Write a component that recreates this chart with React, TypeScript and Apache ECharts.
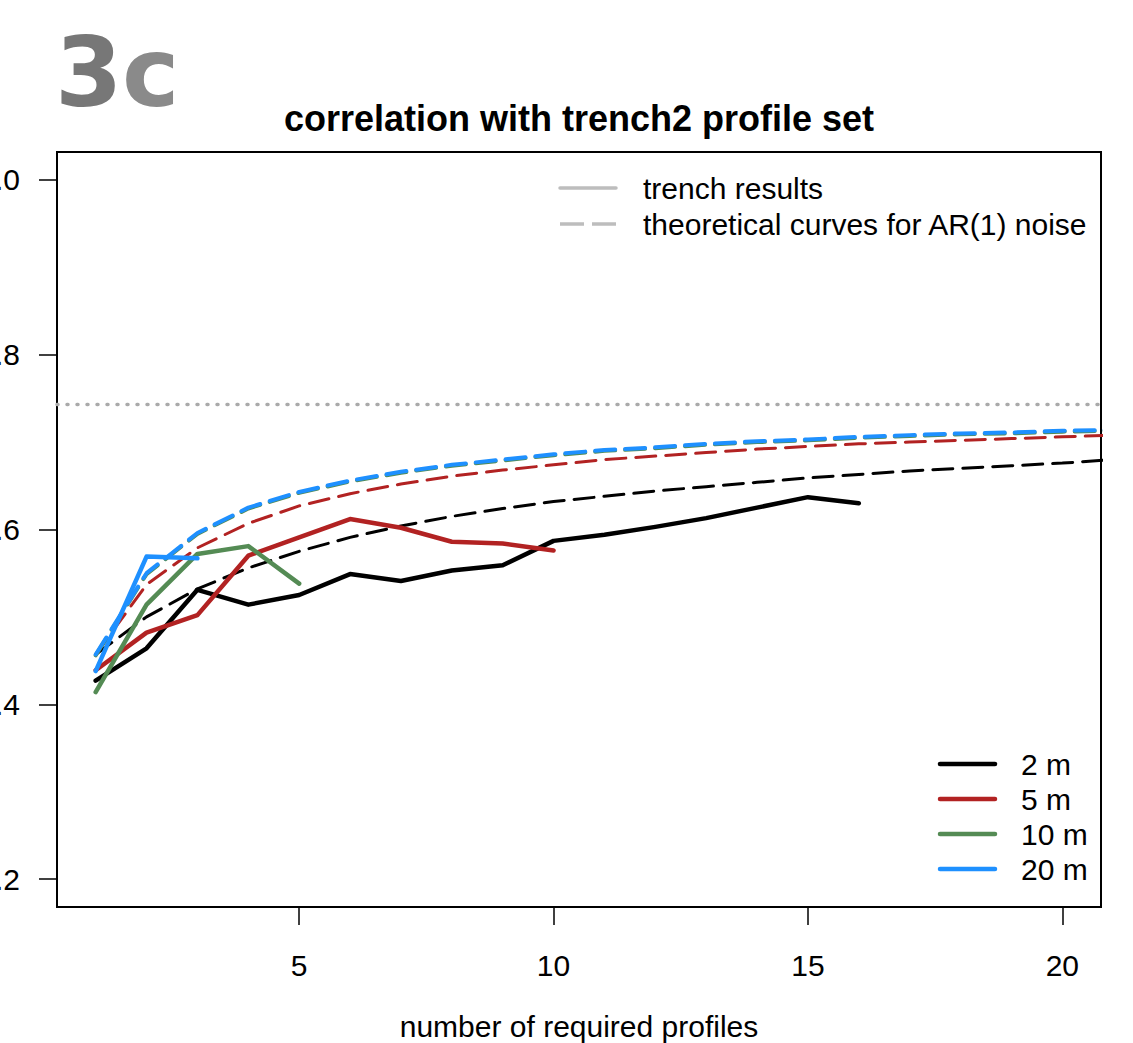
import React, { useEffect, useRef } from "react";
import * as echarts from "echarts";

// ---- data ----
const trenchX2m = [1, 2, 3, 4, 5, 6, 7, 8, 9, 10, 11, 12, 13, 14, 15, 16];
const trench2m = [0.427, 0.464, 0.531, 0.514, 0.525, 0.549, 0.541, 0.553, 0.559, 0.587, 0.594, 0.603, 0.613, 0.625, 0.637, 0.630];
const trenchX5m = [1, 2, 3, 4, 5, 6, 7, 8, 9, 10];
const trench5m = [0.439, 0.482, 0.502, 0.570, 0.591, 0.612, 0.602, 0.586, 0.584, 0.576];
const trenchX10m = [1, 2, 3, 4, 5];
const trench10m = [0.414, 0.514, 0.572, 0.581, 0.538];
const trenchX20m = [1, 2, 3];
const trench20m = [0.438, 0.569, 0.567];

const theoX = [1, 2, 3, 4, 5, 6, 7, 8, 9, 10, 11, 12, 13, 14, 15, 16, 17, 18, 19, 20, 21];
const theo2m = [0.457, 0.500, 0.532, 0.556, 0.575, 0.591, 0.604, 0.615, 0.624, 0.632, 0.638, 0.644, 0.649, 0.654, 0.659, 0.663, 0.667, 0.670, 0.673, 0.676, 0.680];
const theo5m = [0.457, 0.537, 0.579, 0.607, 0.627, 0.641, 0.652, 0.661, 0.668, 0.674, 0.680, 0.684, 0.688, 0.692, 0.695, 0.698, 0.700, 0.702, 0.704, 0.706, 0.708];
const theo10m = [0.456, 0.549, 0.595, 0.624, 0.642, 0.655, 0.665, 0.673, 0.679, 0.685, 0.690, 0.693, 0.697, 0.700, 0.702, 0.705, 0.707, 0.709, 0.710, 0.712, 0.713];
const theo20m = [0.457, 0.550, 0.596, 0.625, 0.643, 0.656, 0.666, 0.674, 0.680, 0.686, 0.691, 0.694, 0.698, 0.701, 0.703, 0.706, 0.708, 0.710, 0.711, 0.713, 0.714];

const asymptoteX = [0.24, 20.76];
const asymptoteY = 0.743;

const xTicks = [5, 10, 15, 20];
const yTicks = [0.2, 0.4, 0.6, 0.8, 1.0];

const spacingLabels = ["2 m", "5 m", "10 m", "20 m"];
const spacingColors = ["#000000", "#B22222", "#548B54", "#1E90FF"];

const pairs = (xs: number[], ys: number[]) => xs.map((x, i) => [x, ys[i]]);

export default function App() {
  const ref = useRef<HTMLDivElement>(null);
  useEffect(() => {
    if (!ref.current) return;
    const chart = echarts.init(ref.current, null, { renderer: "svg" });
    const font = "Liberation Sans, Arial, Helvetica, sans-serif";

    const dashed = (name: string, ys: number[], color: string, width: number) => ({
      name,
      type: "line",
      data: pairs(theoX, ys),
      showSymbol: false,
      symbol: "none",
      clip: true,
      lineStyle: { color, width, type: [20, 10], cap: "round" },
      z: 2,
    });
    const solid = (name: string, xs: number[], ys: number[], color: string) => ({
      name,
      type: "line",
      data: pairs(xs, ys),
      symbol: "none",
      clip: true,
      lineStyle: { color, width: 4.5, cap: "round", join: "round" },
      z: 3,
    });

    const legendGraphics: any[] = [];
    // top legend
    legendGraphics.push(
      { type: "line", shape: { x1: 560, y1: 188, x2: 616, y2: 188 }, style: { stroke: "#bdbdbd", lineWidth: 3.5, lineCap: "round" } },
      { type: "line", shape: { x1: 560, y1: 224, x2: 616, y2: 224 }, style: { stroke: "#bdbdbd", lineWidth: 3.5, lineDash: [24, 8] } },
      { type: "text", x: 643, y: 188, style: { text: "trench results", font: `30px ${font}`, fill: "#000", textAlign: "left", textVerticalAlign: "middle" } },
      { type: "text", x: 643, y: 224, style: { text: "theoretical curves for AR(1) noise", font: `30px ${font}`, fill: "#000", textAlign: "left", textVerticalAlign: "middle" } }
    );
    spacingLabels.forEach((lab, i) => {
      const y = 764 + i * 35;
      legendGraphics.push(
        { type: "line", shape: { x1: 940, y1: y, x2: 995, y2: y }, style: { stroke: spacingColors[i], lineWidth: 4.5, lineCap: "round" } },
        { type: "text", x: 1021, y, style: { text: lab, font: `30px ${font}`, fill: "#000", textAlign: "left", textVerticalAlign: "middle" } }
      );
    });

    chart.setOption({
      animation: false,
      backgroundColor: "#ffffff",
      grid: {
        left: 57, top: 152, width: 1044, height: 755,
        containLabel: false, outerBoundsMode: "none",
        show: true, borderColor: "#000", borderWidth: 2, backgroundColor: "transparent",
      },
      xAxis: {
        type: "value",
        min: 0.24,
        max: 20.76,
        splitLine: { show: false },
        axisLine: { show: false },
        axisTick: { show: true, length: 18, lineStyle: { color: "#000", width: 1.5 }, customValues: xTicks },
        axisLabel: { show: true, margin: 43, color: "#000", fontSize: 30, fontFamily: font, customValues: xTicks, formatter: (v: number) => String(v) },
      },
      yAxis: {
        type: "value",
        min: 0.168,
        max: 1.032,
        splitLine: { show: false },
        axisLine: { show: false },
        axisTick: { show: true, length: 18, lineStyle: { color: "#000", width: 1.5 }, customValues: yTicks },
        axisLabel: { show: true, margin: 37, color: "#000", fontSize: 30, fontFamily: font, customValues: yTicks, formatter: (v: number) => v.toFixed(1) },
      },
      series: [
        dashed("theory 2 m", theo2m, spacingColors[0], 3),
        dashed("theory 5 m", theo5m, spacingColors[1], 3),
        dashed("theory 10 m", theo10m, spacingColors[2], 4),
        dashed("theory 20 m", theo20m, spacingColors[3], 4),
        {
          name: "asymptote",
          type: "line",
          data: asymptoteX.map((x) => [x, asymptoteY]),
          symbol: "none",
          lineStyle: { color: "#aaaaaa", width: 3.5, type: [1, 9], cap: "round" },
          z: 1,
        },
        solid("2 m", trenchX2m, trench2m, spacingColors[0]),
        solid("5 m", trenchX5m, trench5m, spacingColors[1]),
        solid("10 m", trenchX10m, trench10m, spacingColors[2]),
        solid("20 m", trenchX20m, trench20m, spacingColors[3]),
      ],
      graphic: [
        { type: "text", x: 55, y: 72, style: { text: "3", font: `bold 97px DejaVu Sans`, fill: "#777777", textAlign: "left", textVerticalAlign: "middle" } },
        { type: "text", x: 122, y: 72, style: { text: "c", font: `bold 97px DejaVu Sans`, fill: "#8a8a8a", textAlign: "left", textVerticalAlign: "middle" } },
        { type: "text", x: 579, y: 118, style: { text: "correlation with trench2 profile set", font: `bold 36px ${font}`, fill: "#000", textAlign: "center", textVerticalAlign: "middle" } },
        { type: "text", x: 579, y: 1026, style: { text: "number of required profiles", font: `30px ${font}`, fill: "#000", textAlign: "center", textVerticalAlign: "middle" } },
        ...legendGraphics,
      ],
    });
    return () => chart.dispose();
  }, []);
  return <div ref={ref} style={{ position: "fixed", left: 0, top: 0, width: 1133, height: 1043, background: "#fff" }} />;
}
